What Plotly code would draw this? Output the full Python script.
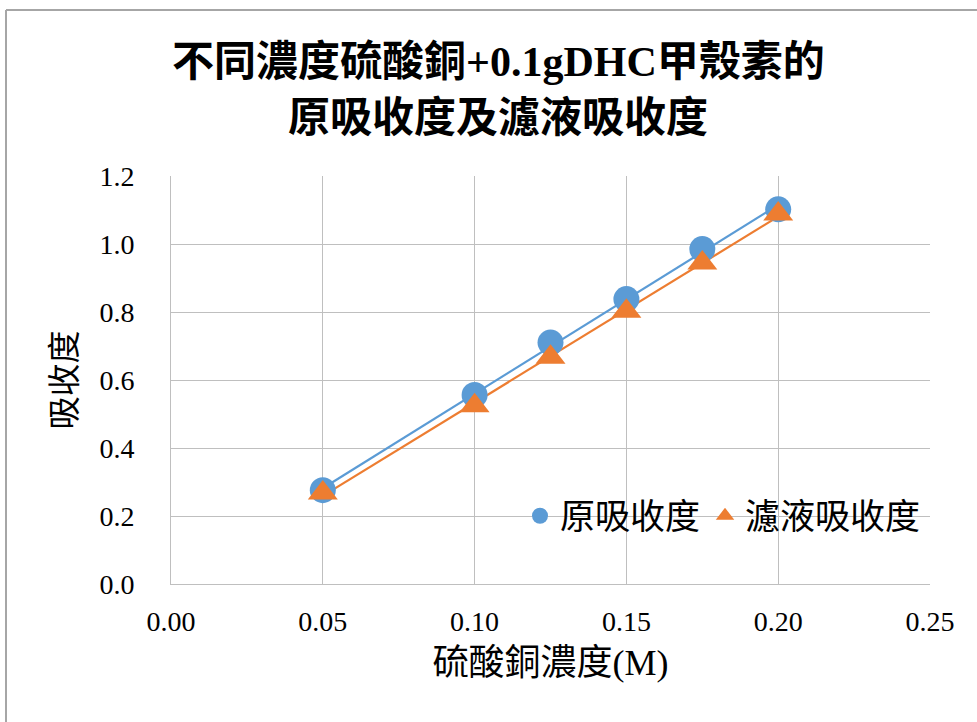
import numpy as np
import plotly.graph_objects as go

# 硫酸銅濃度 (M)
conc = [0.05, 0.10, 0.125, 0.15, 0.175, 0.20]
# 原吸收度
orig_abs = [0.276, 0.556, 0.710, 0.838, 0.985, 1.102]
# 濾液吸收度
filt_abs = [0.268, 0.524, 0.667, 0.802, 0.944, 1.088]

x_ticks = [0.00, 0.05, 0.10, 0.15, 0.20, 0.25]
y_ticks = [0.0, 0.2, 0.4, 0.6, 0.8, 1.0, 1.2]

title_lines = ["不同濃度硫酸銅+0.1gDHC甲殼素的", "原吸收度及濾液吸收度"]

BLUE = "#5B9BD5"
ORANGE = "#ED7D31"
GRID = "#BFBFBF"
FONT = "Liberation Serif, 'Noto Sans CJK TC', serif"

W, H = 977, 722
L, R, T, B = 171, 47, 176, 138
pw = W - L - R
ph = H - T - B


def px_x(p):
    return (p - L) / pw


def px_y(p):
    return (H - B - p) / ph


fig = go.Figure()

# linear trend lines for both series
x_ends = np.array([conc[0], conc[-1]])
for ys, color in [(orig_abs, BLUE), (filt_abs, ORANGE)]:
    k, b = np.polyfit(conc, ys, 1)
    fig.add_trace(go.Scatter(
        x=x_ends, y=k * x_ends + b, mode="lines",
        line=dict(color=color, width=2.2), showlegend=False, hoverinfo="skip",
    ))

fig.add_trace(go.Scatter(
    x=conc, y=orig_abs, mode="markers", name="原吸收度",
    marker=dict(symbol="circle", size=26, color=BLUE),
))
fig.add_trace(go.Scatter(
    x=conc, y=filt_abs, mode="markers", name="濾液吸收度",
    marker=dict(symbol="triangle-up", size=26, color=ORANGE),
))

# outer chart frame (top and left edges)
fx, fy = px_x(6), px_y(10)
shapes = [
    dict(type="line", xref="paper", yref="paper", x0=fx, x1=px_x(W + 5), y0=fy, y1=fy,
         line=dict(color="#A6A6A6", width=2)),
    dict(type="line", xref="paper", yref="paper", x0=fx, x1=fx, y0=fy, y1=px_y(H + 5),
         line=dict(color="#A6A6A6", width=2)),
]

# two-line chart title
annotations = [
    dict(text="<b>%s</b>" % line, xref="paper", yref="paper",
         x=px_x(cx), y=px_y(cy), xanchor="center", yanchor="middle",
         showarrow=False, font=dict(size=42, family=FONT, color="black"))
    for line, cx, cy in [(title_lines[0], 498, 62), (title_lines[1], 498, 118)]
]

fig.update_layout(
    width=W, height=H,
    margin=dict(l=L, r=R, t=T, b=B),
    paper_bgcolor="white", plot_bgcolor="white",
    font=dict(family=FONT, color="black"),
    xaxis=dict(
        range=[0, 0.25], tickvals=x_ticks, tickformat=".2f",
        showgrid=True, gridcolor=GRID, gridwidth=1,
        showline=True, linecolor=GRID, linewidth=1,
        zeroline=False, ticks="", ticklabelstandoff=12,
        tickfont=dict(size=28, family=FONT),
        title=dict(text="硫酸銅濃度(M)", font=dict(size=36, family=FONT), standoff=14),
    ),
    yaxis=dict(
        range=[0, 1.2], tickvals=y_ticks, tickformat=".1f",
        showgrid=True, gridcolor=GRID, gridwidth=1,
        showline=True, linecolor=GRID, linewidth=1,
        zeroline=False, ticks="", ticklabelstandoff=30,
        tickfont=dict(size=28, family=FONT),
        title=dict(text="吸收度", font=dict(size=33, family=FONT), standoff=12),
    ),
    legend=dict(
        orientation="h", x=px_x(520), xanchor="left",
        y=px_y(516), yanchor="middle",
        bgcolor="rgba(0,0,0,0)", font=dict(size=35, family=FONT),
        itemwidth=30, tracegroupgap=0,
    ),
    shapes=shapes,
    annotations=annotations,
    showlegend=True,
)

fig.write_html("out.html")
